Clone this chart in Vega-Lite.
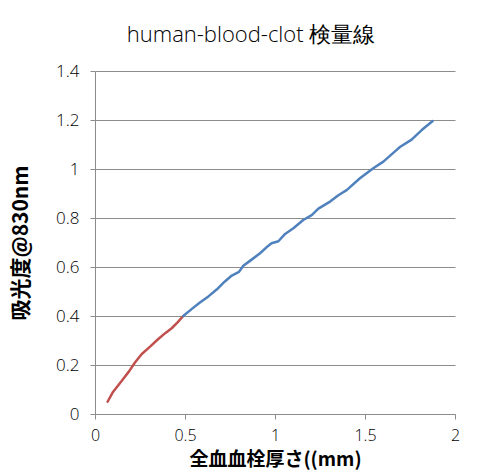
{
  "$schema": "https://vega.github.io/schema/vega-lite/v6.json",
  "width": 360,
  "height": 343,
  "autosize": {"type": "none"},
  "padding": {"left": 95, "top": 71, "right": 36, "bottom": 61},
  "background": "white",
  "title": {
    "text": "human-blood-clot 検量線",
    "anchor": "middle",
    "dx": -24,
    "offset": 15,
    "font": "Open Sans",
    "fontSize": 22,
    "fontWeight": 300,
    "color": "#000000"
  },
  "data": {
    "values": [
      {"x": 0.07, "y": 0.05, "s": "a"},
      {"x": 0.10, "y": 0.09, "s": "a"},
      {"x": 0.148, "y": 0.135, "s": "a"},
      {"x": 0.19, "y": 0.175, "s": "a"},
      {"x": 0.222, "y": 0.21, "s": "a"},
      {"x": 0.26, "y": 0.245, "s": "a"},
      {"x": 0.306, "y": 0.275, "s": "a"},
      {"x": 0.35, "y": 0.305, "s": "a"},
      {"x": 0.39, "y": 0.33, "s": "a"},
      {"x": 0.426, "y": 0.35, "s": "a"},
      {"x": 0.46, "y": 0.375, "s": "a"},
      {"x": 0.49, "y": 0.40, "s": "a"},
      {"x": 0.49, "y": 0.40, "s": "b"},
      {"x": 0.54, "y": 0.43, "s": "b"},
      {"x": 0.583, "y": 0.455, "s": "b"},
      {"x": 0.63, "y": 0.48, "s": "b"},
      {"x": 0.676, "y": 0.508, "s": "b"},
      {"x": 0.72, "y": 0.54, "s": "b"},
      {"x": 0.76, "y": 0.565, "s": "b"},
      {"x": 0.80, "y": 0.58, "s": "b"},
      {"x": 0.824, "y": 0.605, "s": "b"},
      {"x": 0.861, "y": 0.625, "s": "b"},
      {"x": 0.917, "y": 0.656, "s": "b"},
      {"x": 0.96, "y": 0.685, "s": "b"},
      {"x": 0.981, "y": 0.697, "s": "b"},
      {"x": 1.019, "y": 0.705, "s": "b"},
      {"x": 1.056, "y": 0.735, "s": "b"},
      {"x": 1.102, "y": 0.758, "s": "b"},
      {"x": 1.157, "y": 0.792, "s": "b"},
      {"x": 1.204, "y": 0.812, "s": "b"},
      {"x": 1.241, "y": 0.838, "s": "b"},
      {"x": 1.306, "y": 0.867, "s": "b"},
      {"x": 1.352, "y": 0.893, "s": "b"},
      {"x": 1.398, "y": 0.914, "s": "b"},
      {"x": 1.472, "y": 0.962, "s": "b"},
      {"x": 1.546, "y": 1.003, "s": "b"},
      {"x": 1.602, "y": 1.03, "s": "b"},
      {"x": 1.676, "y": 1.078, "s": "b"},
      {"x": 1.694, "y": 1.09, "s": "b"},
      {"x": 1.759, "y": 1.12, "s": "b"},
      {"x": 1.815, "y": 1.159, "s": "b"},
      {"x": 1.876, "y": 1.196, "s": "b"}
    ]
  },
  "mark": {"type": "line", "strokeWidth": 2.5, "strokeCap": "round", "strokeJoin": "round"},
  "encoding": {
    "x": {
      "field": "x",
      "type": "quantitative",
      "scale": {"domain": [0, 2], "nice": false, "zero": false},
      "axis": {
        "values": [0, 0.5, 1, 1.5, 2],
        "labelExpr": "datum.value + ''",
        "grid": false,
        "title": "全血血栓厚さ((mm)",
        "titleFontWeight": "bold",
        "titleFontSize": 19,
        "titlePadding": 7,
        "labelPadding": 8,
        "labelFontSize": 16,
        "labelFlush": false
      }
    },
    "y": {
      "field": "y",
      "type": "quantitative",
      "scale": {"domain": [0, 1.4], "nice": false},
      "axis": {
        "values": [0, 0.2, 0.4, 0.6, 0.8, 1, 1.2, 1.4],
        "labelExpr": "datum.value + ''",
        "grid": true,
        "title": "吸光度@830nm",
        "titleFontWeight": "bold",
        "titleFontSize": 21,
        "titlePadding": 24,
        "labelPadding": 11
      }
    },
    "color": {
      "field": "s",
      "type": "nominal",
      "scale": {"domain": ["a", "b"], "range": ["#C0504D", "#4F81BD"]},
      "legend": null
    }
  },
  "config": {
    "view": {"stroke": null},
    "axis": {
      "labelFont": "Open Sans",
      "labelFontSize": 17,
      "labelFontWeight": 300,
      "labelColor": "#000000",
      "titleFont": "Noto Sans CJK JP",
      "titleColor": "#000000",
      "domainColor": "#8c8c8c",
      "domainWidth": 1,
      "tickColor": "#8c8c8c",
      "tickSize": 5,
      "gridColor": "#8c8c8c",
      "gridWidth": 1
    }
  }
}
